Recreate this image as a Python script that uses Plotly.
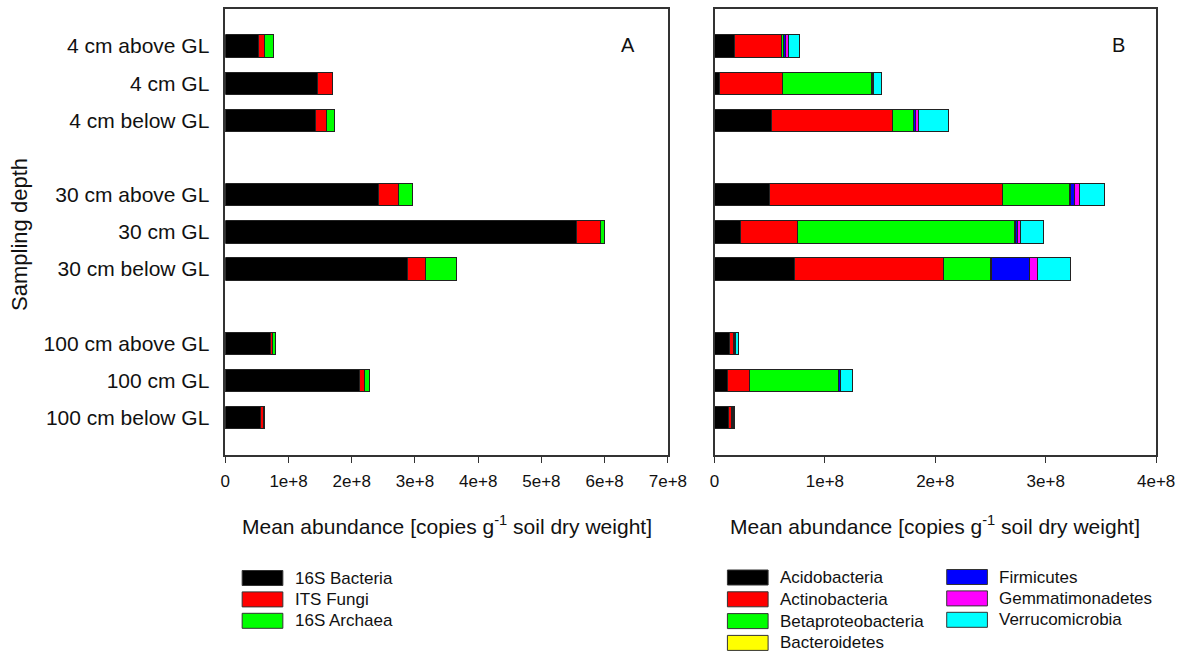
import plotly.graph_objects as go

W, H = 1189, 657
SX = 1189 / 1174  # horizontal compensation observed in the rendering harness

depths = ["4 cm above GL", "4 cm GL", "4 cm below GL",
          "30 cm above GL", "30 cm GL", "30 cm below GL",
          "100 cm above GL", "100 cm GL", "100 cm below GL"]

# Panel A (copies, units of 1e8)
bacteria_16s = [0.53, 1.46, 1.42, 2.42, 5.56, 2.88, 0.71, 2.13, 0.56]
its_fungi = [0.083, 0.235, 0.177, 0.323, 0.37, 0.28, 0.03, 0.067, 0.05]
archaea_16s = [0.146, 0.005, 0.13, 0.21, 0.072, 0.50, 0.047, 0.078, 0.003]

# Panel B (units of 1e8)
acidobacteria = [0.18, 0.042, 0.52, 0.50, 0.237, 0.723, 0.132, 0.114, 0.126]
actinobacteria = [0.43, 0.57, 1.088, 2.108, 0.513, 1.35, 0.04, 0.20, 0.03]
betaproteobacteria = [0.013, 0.807, 0.195, 0.61, 1.97, 0.43, 0.005, 0.81, 0.005]
bacteroidetes = [0.003, 0.003, 0.003, 0.003, 0.003, 0.003, 0.003, 0.003, 0.003]
firmicutes = [0.014, 0.01, 0.015, 0.04, 0.018, 0.345, 0.005, 0.01, 0.005]
gemmatimonadetes = [0.033, 0.005, 0.03, 0.041, 0.03, 0.075, 0.005, 0.005, 0.005]
verrucomicrobia = [0.096, 0.078, 0.27, 0.228, 0.21, 0.295, 0.025, 0.11, 0.01]

ticks_a = [0, 1, 2, 3, 4, 5, 6, 7]
ticks_b = [0, 1, 2, 3, 4]

# category positions with a gap between depth groups
ypos = [(i // 3) * 4 + (i % 3) for i in range(len(depths))]

series_a = [("16S Bacteria", bacteria_16s, "#000000"),
            ("ITS Fungi", its_fungi, "#ff0000"),
            ("16S Archaea", archaea_16s, "#00ff00")]
series_b = [("Acidobacteria", acidobacteria, "#000000"),
            ("Actinobacteria", actinobacteria, "#ff0000"),
            ("Betaproteobacteria", betaproteobacteria, "#00ff00"),
            ("Bacteroidetes", bacteroidetes, "#ffff00"),
            ("Firmicutes", firmicutes, "#0000ff"),
            ("Gemmatimonadetes", gemmatimonadetes, "#ff00ff"),
            ("Verrucomicrobia", verrucomicrobia, "#00ffff")]


def px(x):
    return x * SX / W


def py(y):
    return 1 - y / H


FONT = "Arial, Liberation Sans, sans-serif"
fig = go.Figure()
for name, vals, col in series_a:
    fig.add_trace(go.Bar(orientation="h", x=[v * 1e8 for v in vals], y=ypos, name=name,
                         width=0.6, marker=dict(color=col, line=dict(color="#222", width=1)),
                         xaxis="x", yaxis="y", showlegend=False))
for name, vals, col in series_b:
    fig.add_trace(go.Bar(orientation="h", x=[v * 1e8 for v in vals], y=ypos, name=name,
                         width=0.6, marker=dict(color=col, line=dict(color="#222", width=1)),
                         xaxis="x2", yaxis="y2", showlegend=False))

x0a, x1a = px(222), px(668)
x0b, x1b = px(715), px(1160)
yb, yt = py(455), py(8.85)

axcommon = dict(showline=True, mirror=True, linecolor="#333", linewidth=1.5,
                showgrid=False, zeroline=False, ticks="outside", ticklen=6,
                tickcolor="#333", ticklabelstandoff=4,
                tickfont=dict(size=17, color="#111", family=FONT))
fig.update_layout(
    width=W, height=H, autosize=False, barmode="stack", plot_bgcolor="white",
    paper_bgcolor="white", margin=dict(l=0, r=0, t=0, b=0),
    font=dict(family=FONT, color="#111"),
    xaxis=dict(domain=[x0a, x1a], range=[0, 7e8], tickvals=[t * 1e8 for t in ticks_a],
               ticktext=["0" if t == 0 else f"{t}e+8" for t in ticks_a], anchor="y", **axcommon),
    xaxis2=dict(domain=[x0b, x1b], range=[0, 4e8], tickvals=[t * 1e8 for t in ticks_b],
                ticktext=["0" if t == 0 else f"{t}e+8" for t in ticks_b], anchor="y2", **axcommon),
    yaxis=dict(domain=[yb, yt], range=[11, -1], tickvals=ypos, ticktext=depths,
               showline=True, mirror=True, linecolor="#333", linewidth=1.5, showgrid=False,
               zeroline=False, ticks="", ticklabelstandoff=10,
               tickfont=dict(size=21, color="#111", family=FONT), anchor="x"),
    yaxis2=dict(domain=[yb, yt], range=[11, -1], showticklabels=False,
                showline=True, mirror=True, linecolor="#333", linewidth=1.5, showgrid=False,
                zeroline=False, ticks="", anchor="x2"),
)

title = "Mean abundance [copies g<sup>-1</sup> soil dry weight]"
ann = [
    dict(text=title, x=(x0a + x1a) / 2, y=py(525), xref="paper", yref="paper",
         showarrow=False, font=dict(size=21), xanchor="center", yanchor="middle"),
    dict(text=title, x=(x0b + x1b) / 2, y=py(525), xref="paper", yref="paper",
         showarrow=False, font=dict(size=21), xanchor="center", yanchor="middle"),
    dict(text="Sampling depth", x=px(14), y=py(234), xref="paper", yref="paper",
         showarrow=False, textangle=-90, font=dict(size=22), xanchor="center", yanchor="middle"),
    dict(text="A", x=px(628), y=py(45), xref="paper", yref="paper",
         showarrow=False, font=dict(size=20), xanchor="center", yanchor="middle"),
    dict(text="B", x=px(1122), y=py(45), xref="paper", yref="paper",
         showarrow=False, font=dict(size=20), xanchor="center", yanchor="middle"),
]
shapes = []


def legend_item(xs, ytop, name, col):
    shapes.append(dict(type="rect", xref="paper", yref="paper",
                       x0=px(xs), x1=px(xs + 41), y0=py(ytop + 15), y1=py(ytop),
                       fillcolor=col, line=dict(color="#333", width=1)))
    ann.append(dict(text=name, x=px(xs + 51), y=py(ytop + 7.5), xref="paper",
                    yref="paper", showarrow=False, xanchor="left", yanchor="middle",
                    font=dict(size=17)))


for i, (name, _, col) in enumerate(series_a):
    legend_item(239, 570.5 + i * 21.4, name, col)
for i, (name, _, col) in enumerate(series_b):
    if i < 4:
        legend_item(728, 570 + i * 21.8, name, col)
    else:
        legend_item(949, 569.5 + (i - 4) * 21.4, name, col)

fig.update_layout(annotations=ann, shapes=shapes)
fig.write_html("out.html")
